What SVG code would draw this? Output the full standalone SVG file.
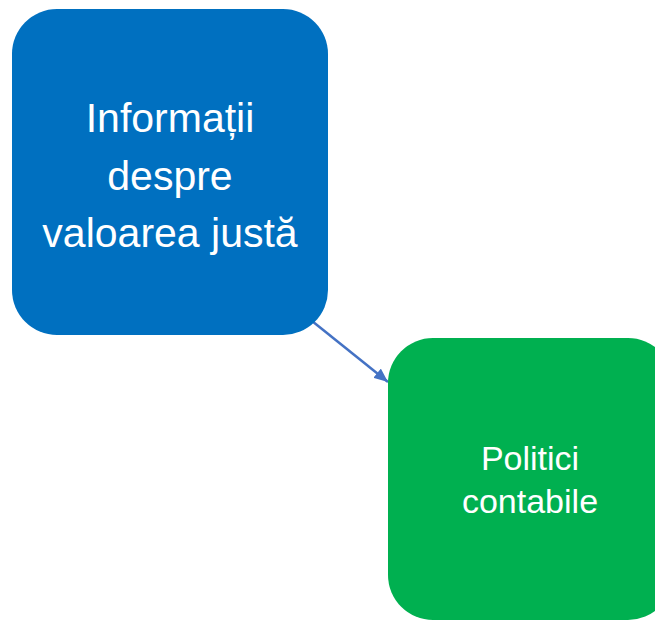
<svg xmlns="http://www.w3.org/2000/svg" width="655" height="621" viewBox="0 0 655 621">
  <defs>
    <style>
      .lbl { font-family: "Liberation Sans", Arial, sans-serif; fill: #ffffff; text-anchor: middle; }
      .conn { stroke: #4472C4; stroke-width: 2.5; fill: none; }
    </style>
    <marker id="arrow" viewBox="0 0 14 12" refX="14" refY="6" markerWidth="14" markerHeight="12" markerUnits="userSpaceOnUse" orient="auto">
      <path d="M0,0 L14,6 L0,12 Z" fill="#4472C4"/>
    </marker>
  </defs>
  <rect width="655" height="621" fill="#ffffff"/>
  <g id="connectors">
    <line class="conn" x1="312" y1="321" x2="388" y2="382" marker-end="url(#arrow)"/>
  </g>
  <g id="node-informatii">
    <rect x="12" y="9" width="316" height="326" rx="45" ry="45" fill="#0070C0"/>
    <text class="lbl" font-size="41" x="170" y="132">Informații</text>
    <text class="lbl" font-size="41" x="170" y="190">despre</text>
    <text class="lbl" font-size="41" x="170" y="247">valoarea justă</text>
  </g>
  <g id="node-politici">
    <rect x="388" y="338" width="285" height="282" rx="45" ry="45" fill="#00B050"/>
    <text class="lbl" font-size="34" x="530" y="470">Politici</text>
    <text class="lbl" font-size="34" x="530" y="513">contabile</text>
  </g>
</svg>
